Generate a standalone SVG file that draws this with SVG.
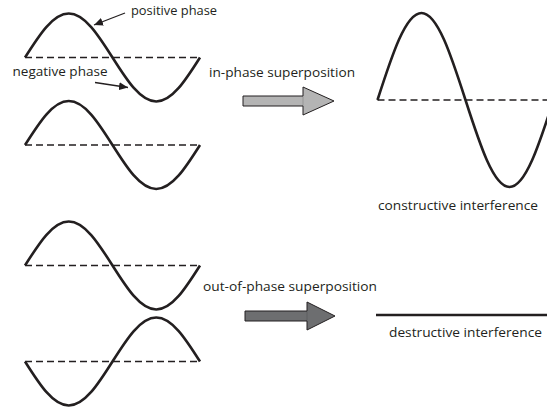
<svg xmlns="http://www.w3.org/2000/svg" xmlns:xlink="http://www.w3.org/1999/xlink" width="547" height="408" viewBox="0 0 547 408">
  <style>
    .wave { fill: none; stroke: #231f20; stroke-width: 2.6; stroke-linejoin: round; }
    .axis { fill: none; stroke: #231f20; stroke-width: 1.3; stroke-dasharray: 7 4; }
    .lbl { font-family: "Open Sans", "Liberation Sans", sans-serif; font-size: 13.5px; fill: #231f20; }
    .ptr { fill: none; stroke: #231f20; stroke-width: 1.3; }
    .blk { stroke: #231f20; stroke-width: 1; stroke-linejoin: miter; }
    .seam { stroke: #231f20; stroke-width: 0.4; stroke-opacity: 0.5; }
  </style>
  <defs>
    <path id="sine" d="M0,0 C14.27,-22.54 27.92,-44 43.75,-44 C59.58,-44 73.23,-22.54 87.5,0 C101.77,22.54 115.42,44 131.25,44 C147.08,44 160.73,22.54 175,0"/>
    <marker id="head" markerUnits="userSpaceOnUse" markerWidth="10" markerHeight="8" refX="9" refY="4" orient="auto">
      <path d="M0,0 L9,4 L0,8 Z" fill="#231f20"/>
    </marker>
  </defs>

  <g id="wave1">
    <line class="axis" x1="25" y1="57.5" x2="200" y2="57.5"/>
    <use xlink:href="#sine" class="wave" transform="translate(25,57.5)"/>
  </g>
  <g id="wave2">
    <line class="axis" x1="25" y1="145" x2="200" y2="145"/>
    <use xlink:href="#sine" class="wave" transform="translate(25,145)"/>
  </g>
  <g id="wave3">
    <line class="axis" x1="25" y1="265.5" x2="200" y2="265.5"/>
    <use xlink:href="#sine" class="wave" transform="translate(25,265.5)"/>
  </g>
  <g id="wave4">
    <line class="axis" x1="25" y1="361.5" x2="200" y2="361.5"/>
    <use xlink:href="#sine" class="wave" transform="translate(25,361.5) scale(1,-1)"/>
  </g>

  <g id="constructive">
    <line class="axis" x1="377.5" y1="100" x2="547" y2="100"/>
    <path class="wave" d="M377.5,100 C391.85,55.43 405.58,13 421.5,13 C437.42,13 451.15,55.43 465.5,100 C479.85,144.57 493.58,187 509.5,187 C525.42,187 539.15,144.57 553.5,100"/>
    <text class="lbl" x="378" y="210" textLength="160" lengthAdjust="spacingAndGlyphs">constructive interference</text>
  </g>

  <g id="destructive">
    <line class="wave" x1="376" y1="315" x2="547" y2="315"/>
    <text class="lbl" x="389" y="337" textLength="153" lengthAdjust="spacingAndGlyphs">destructive interference</text>
  </g>

  <g id="label-positive">
    <text class="lbl" x="131" y="15" textLength="86" lengthAdjust="spacingAndGlyphs">positive phase</text>
  </g>
  <g id="label-negative">
    <text class="lbl" x="12.5" y="76" textLength="95" lengthAdjust="spacingAndGlyphs">negative phase</text>
  </g>
  <g id="label-inphase">
    <text class="lbl" x="209" y="77" textLength="146" lengthAdjust="spacingAndGlyphs">in-phase superposition</text>
  </g>
  <g id="label-outphase">
    <text class="lbl" x="203" y="291" textLength="174" lengthAdjust="spacingAndGlyphs">out-of-phase superposition</text>
  </g>

  <g id="connectors">
    <line class="ptr" x1="125" y1="13" x2="94" y2="25" marker-end="url(#head)"/>
    <line class="ptr" x1="95" y1="82.5" x2="128" y2="87.5" marker-end="url(#head)"/>
    <g id="arrow-inphase">
      <polygon class="blk" fill="#b4b4b4" points="243,96 303,96 303,87 334,101 303,115 303,106 243,106"/>
      <line class="seam" x1="303" y1="96" x2="303" y2="106"/>
    </g>
    <g id="arrow-outphase">
      <polygon class="blk" fill="#6d6e70" points="245,311 307,311 307,302 335,316 307,330 307,321 245,321"/>
      <line class="seam" x1="307" y1="311" x2="307" y2="321"/>
    </g>
  </g>
</svg>
